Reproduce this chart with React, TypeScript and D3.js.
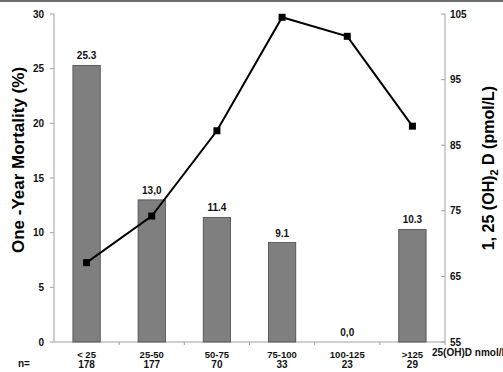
import React, { useEffect, useRef } from "react";
import * as d3 from "d3";

const categories = ["< 25", "25-50", "50-75", "75-100", "100-125", ">125"];
const counts = ["178", "177", "70", "33", "23", "29"];
const mortality = [25.3, 13.0, 11.4, 9.1, 0.0, 10.3];
const mortalityLabels = ["25.3", "13,0", "11.4", "9.1", "0,0", "10.3"];
const calcitriol = [67.1, 74.2, 87.2, 104.5, 101.6, 87.9];
const leftTicks = [0, 5, 10, 15, 20, 25, 30];
const rightTicks = [55, 65, 75, 85, 95, 105];

const App = () => {
  const svgRef = useRef<SVGSVGElement>(null);

  useEffect(() => {
    const svg = d3.select(svgRef.current);
    svg.selectAll("*").remove();

    const width = 503;
    const height = 372;
    const left = 54;
    const right = 445;
    const top = 14;
    const bottom = 342;
    const font = "'Liberation Sans', Arial, sans-serif";

    svg.attr("width", width).attr("height", height).style("font-family", font);

    // bordo superiore
    svg.append("rect").attr("x", 0).attr("y", 0).attr("width", width).attr("height", 2).attr("fill", "#6e6e6e");

    const x = d3.scaleBand<string>().domain(categories).range([left, right]).paddingInner(0.58).paddingOuter(0.29);
    const yL = d3.scaleLinear().domain([0, 30]).range([bottom, top]);
    const yR = d3.scaleLinear().domain([55, 105]).range([bottom, top]);

    const axisColor = "#a0a0a0";

    // asse sinistro
    svg.append("line").attr("x1", left).attr("x2", left).attr("y1", top).attr("y2", bottom)
      .attr("stroke", axisColor).attr("stroke-width", 1);
    leftTicks.forEach(t => {
      svg.append("line").attr("x1", left - 4).attr("x2", left).attr("y1", yL(t)).attr("y2", yL(t))
        .attr("stroke", axisColor);
      svg.append("text").attr("x", left - 10).attr("y", yL(t)).attr("dy", "0.35em")
        .attr("text-anchor", "end").attr("font-size", 10).attr("font-weight", "bold").attr("fill", "#111")
        .text(t);
    });

    // asse destro
    svg.append("line").attr("x1", right).attr("x2", right).attr("y1", top).attr("y2", bottom)
      .attr("stroke", axisColor).attr("stroke-width", 1);
    rightTicks.forEach(t => {
      svg.append("line").attr("x1", right - 4).attr("x2", right).attr("y1", yR(t)).attr("y2", yR(t))
        .attr("stroke", axisColor);
      svg.append("text").attr("x", right + 5).attr("y", yR(t)).attr("dy", "0.35em")
        .attr("text-anchor", "start").attr("font-size", 10).attr("font-weight", "bold").attr("fill", "#111")
        .text(t);
    });

    // asse x
    svg.append("line").attr("x1", left).attr("x2", right).attr("y1", bottom).attr("y2", bottom)
      .attr("stroke", axisColor);
    const step = x.step();
    categories.forEach((c, i) => {
      const bx = left + step * (i + 1);
      svg.append("line").attr("x1", bx).attr("x2", bx).attr("y1", bottom).attr("y2", bottom + 3)
        .attr("stroke", axisColor);
    });

    // barre
    svg.append("g").selectAll("rect").data(categories).join("rect")
      .attr("x", d => x(d)!)
      .attr("y", (d, i) => yL(mortality[i]))
      .attr("width", x.bandwidth())
      .attr("height", (d, i) => bottom - yL(mortality[i]))
      .attr("fill", "#7f7f7f")
      .attr("stroke", "#4a4a4a")
      .attr("stroke-width", 0.8);

    svg.append("g").selectAll("text").data(categories).join("text")
      .attr("x", d => x(d)! + x.bandwidth() / 2)
      .attr("y", (d, i) => yL(mortality[i]) - 6)
      .attr("text-anchor", "middle").attr("font-size", 10).attr("font-weight", "bold").attr("fill", "#111")
      .text((d, i) => mortalityLabels[i]);

    // linea
    const line = d3.line<number>()
      .x((d, i) => x(categories[i])! + x.bandwidth() / 2)
      .y(d => yR(d));
    svg.append("path").datum(calcitriol).attr("d", line).attr("fill", "none")
      .attr("stroke", "#000").attr("stroke-width", 2);
    svg.append("g").selectAll("rect").data(calcitriol).join("rect")
      .attr("x", (d, i) => x(categories[i])! + x.bandwidth() / 2 - 3.5)
      .attr("y", d => yR(d) - 3.5)
      .attr("width", 7).attr("height", 7).attr("fill", "#000");

    // etichette categorie
    categories.forEach((c, i) => {
      const cx = x(c)! + x.bandwidth() / 2;
      svg.append("text").attr("x", cx).attr("y", 358).attr("text-anchor", "middle")
        .attr("font-size", 9.5).attr("font-weight", "bold").attr("fill", "#111").text(c);
      svg.append("text").attr("x", cx).attr("y", 368).attr("text-anchor", "middle")
        .attr("font-size", 10).attr("font-weight", "bold").attr("fill", "#111").text(counts[i]);
    });
    svg.append("text").attr("x", 18).attr("y", 367)
      .attr("font-size", 10).attr("font-weight", "bold").attr("fill", "#111").text("n=");
    svg.append("text").attr("x", 432).attr("y", 356)
      .attr("font-size", 10).attr("font-weight", "bold").attr("fill", "#111").text("25(OH)D nmol/l");

    // titoli assi
    svg.append("text")
      .attr("transform", `translate(24,${(top + bottom) / 2 - 18}) rotate(-90)`)
      .attr("text-anchor", "middle").attr("font-size", 17).attr("font-weight", "bold").attr("fill", "#000")
      .text("One -Year Mortality (%)");

    const rt = svg.append("text")
      .attr("transform", `translate(494,${(top + bottom) / 2 - 10}) rotate(-90)`)
      .attr("text-anchor", "middle").attr("font-size", 16).attr("font-weight", "bold").attr("fill", "#000");
    rt.append("tspan").text("1, 25 (OH)");
    rt.append("tspan").attr("font-size", 11).attr("dy", 4).text("2");
    rt.append("tspan").attr("dy", -4).text(" D (pmol/L)");
  }, []);

  return <svg ref={svgRef} style={{ position: "absolute", left: 0, top: 0 }}></svg>;
};

export default App;
